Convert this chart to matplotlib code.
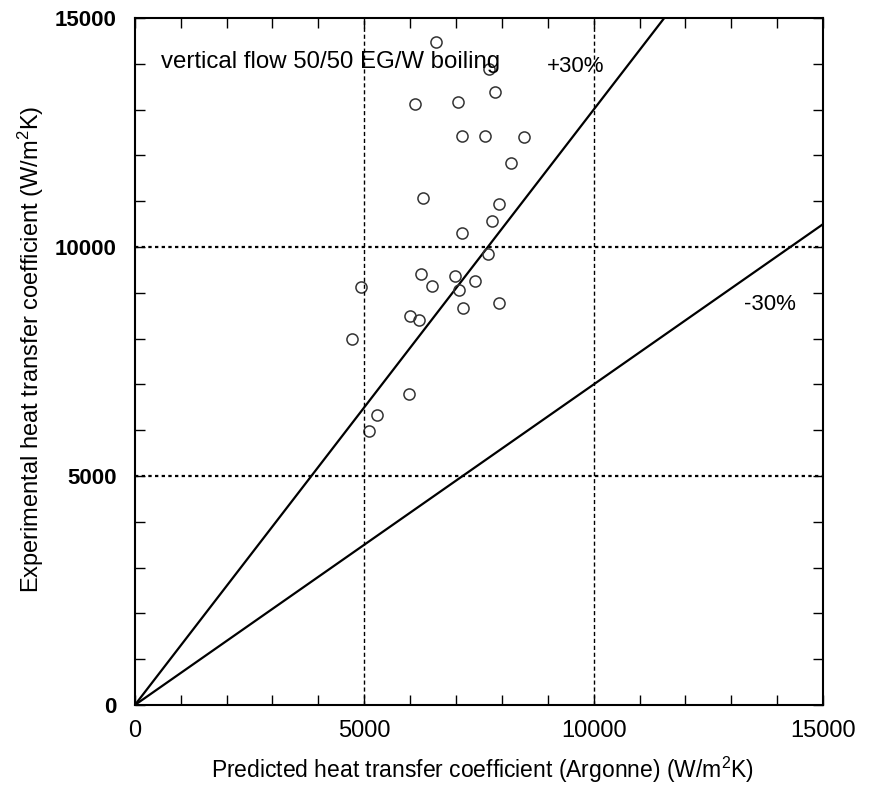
import numpy as np
import matplotlib.pyplot as plt

# predicted (Argonne) vs experimental heat transfer coefficient, W/m2K
predicted = [6560, 7720, 7850, 6100, 7035, 7135, 7630, 8480, 8190, 6270,
             7940, 7790, 7120, 7700, 6235, 6975, 6470, 7410, 7060, 4920,
             7935, 7145, 6000, 6190, 4730, 5980, 5285, 5110]
experimental = [14470, 13880, 13380, 13120, 13165, 12420, 12420, 12410, 11840, 11075,
                10940, 10575, 10300, 9850, 9410, 9365, 9150, 9265, 9060, 9125,
                8785, 8670, 8495, 8405, 7985, 6800, 6325, 5975]
upper_factor = 1.3
lower_factor = 0.7

plt.rcParams['font.family'] = 'Liberation Sans'
plt.rcParams['mathtext.fontset'] = 'custom'
plt.rcParams['mathtext.rm'] = 'Liberation Sans'
plt.rcParams['mathtext.default'] = 'regular'

fig = plt.figure(figsize=(8.7, 7.86), dpi=100)
ax = fig.add_axes([0.155, 0.103, 0.791, 0.874])

xx = np.array([0, 15000])
ax.plot(xx, upper_factor * xx, color='black', lw=1.6)
ax.plot(xx, lower_factor * xx, color='black', lw=1.6)
ax.plot(predicted, experimental, 'o', mfc='none', mec='#333333', ms=8, mew=1.1)

for v in [5000, 10000]:
    ax.axvline(v, color='black', lw=1.0, ls=(0, (3, 2)))
    ax.axhline(v, color='black', lw=1.6, ls=(0, (1.5, 1.5)))

ax.set_xlim(0, 15000)
ax.set_ylim(0, 15000)
ax.set_xticks([0, 5000, 10000, 15000])
ax.set_yticks([0, 5000, 10000, 15000])
ax.set_xticks(np.arange(0, 15001, 1000), minor=True)
ax.set_yticks(np.arange(0, 15001, 1000), minor=True)
ax.tick_params(which='both', direction='in', top=True, right=True, length=7, width=1)
ax.tick_params(axis='x', labelsize=17, pad=11)
ax.tick_params(axis='y', labelsize=16, pad=13)
for lab in ax.get_yticklabels():
    lab.set_fontweight('bold')
for s in ax.spines.values():
    s.set_linewidth(1.5)

fig.text(0.555, 0.0102, 'Predicted heat transfer coefficient (Argonne) (W/m$^2$K)',
         fontsize=16.5, ha='center', va='baseline')
fig.text(0.036, 0.555, 'Experimental heat transfer coefficient (W/m$^2$K)',
         fontsize=17, ha='center', va='center', rotation=90)

ax.text(560, 13900, 'vertical flow 50/50 EG/W boiling', fontsize=17.3, va='baseline')
ax.text(8970, 13830, '+30%', fontsize=16, va='baseline')
ax.text(13280, 8630, '-30%', fontsize=16, va='baseline')

fig.savefig('out.png', dpi=100)
